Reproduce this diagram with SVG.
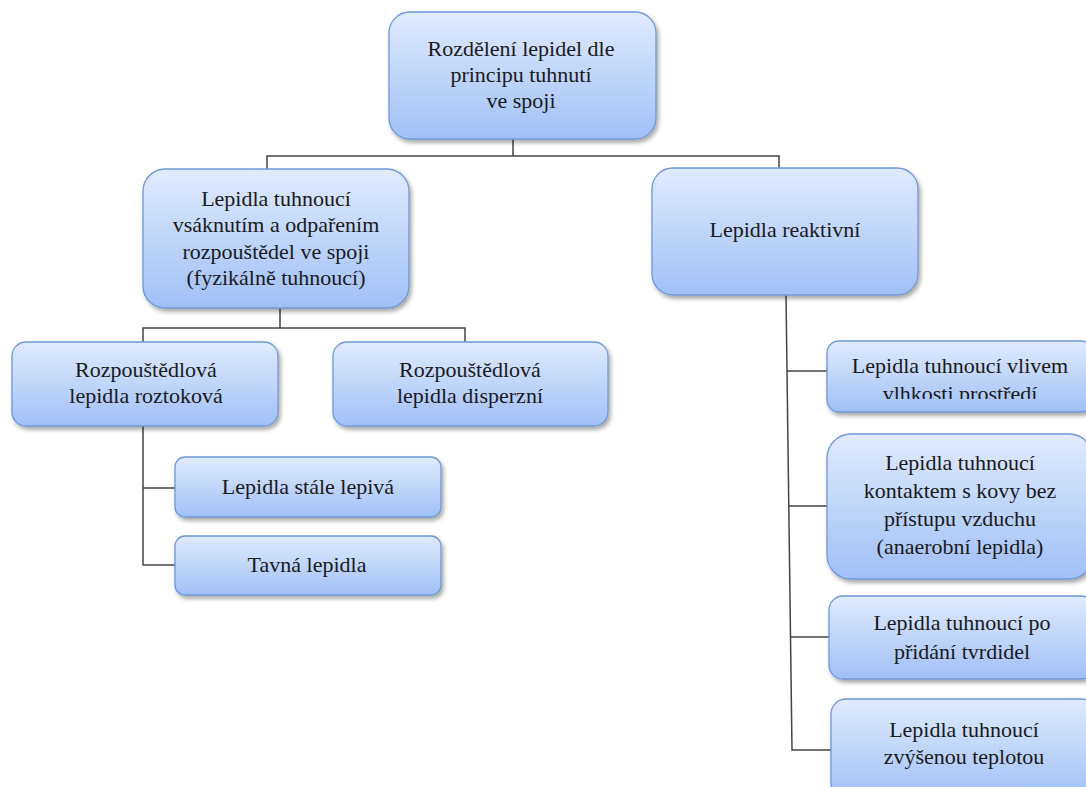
<svg xmlns="http://www.w3.org/2000/svg" width="1086" height="787" viewBox="0 0 1086 787">
<defs>
<linearGradient id="g" x1="0" y1="0" x2="0" y2="1">
<stop offset="0" stop-color="#e0ebfd"/>
<stop offset="1" stop-color="#a0c0f7"/>
</linearGradient>
<filter id="sh" x="-10%" y="-10%" width="130%" height="140%">
<feDropShadow dx="2" dy="3" stdDeviation="2" flood-color="#000" flood-opacity="0.35"/>
</filter>
<clipPath id="clipV"><rect x="827" y="342" width="300" height="57"/></clipPath>
</defs>
<style>
.box{fill:url(#g);stroke:#6f98d6;stroke-width:1.3;filter:url(#sh)}
.t{font-family:"Liberation Serif","Times New Roman",serif;font-size:22px;fill:#1a1a1a;text-anchor:middle}
.c{fill:none;stroke:#454545;stroke-width:1.5}
</style>
<rect width="1086" height="787" fill="#fff"/>
<g id="connectors">
<polyline class="c" points="513,139 513,156"/>
<polyline class="c" points="267,169 267,156 779,156 779,168"/>
<polyline class="c" points="280,308 280,328"/>
<polyline class="c" points="143,342 143,328 465,328 465,342"/>
<polyline class="c" points="143,426 143,565 175,565"/>
<line class="c" x1="143" y1="488" x2="175" y2="488"/>
<polyline class="c" points="786,295 792,750 831,750"/>
<line class="c" x1="787" y1="371" x2="827" y2="371"/>
<line class="c" x1="789" y1="506" x2="827" y2="506"/>
<line class="c" x1="790" y1="637" x2="829" y2="637"/>
</g>
<g id="root">
<rect class="box" x="389" y="12" width="267" height="127" rx="21"/>
<text class="t" x="521" y="56">Rozdělení lepidel dle</text>
<text class="t" x="521" y="82">principu tuhnutí</text>
<text class="t" x="521" y="108">ve spoji</text>
</g>
<g id="fyzikalne">
<rect class="box" x="143" y="169" width="266" height="139" rx="22"/>
<text class="t" x="276" y="206">Lepidla tuhnoucí</text>
<text class="t" x="276" y="232">vsáknutím a odpařením</text>
<text class="t" x="276" y="259">rozpouštědel ve spoji</text>
<text class="t" x="276" y="285">(fyzikálně tuhnoucí)</text>
</g>
<g id="reaktivni">
<rect class="box" x="652" y="168" width="266" height="127" rx="21"/>
<text class="t" x="785" y="237">Lepidla reaktivní</text>
</g>
<g id="roztokova">
<rect class="box" x="12" y="342" width="266" height="84" rx="14"/>
<text class="t" x="146" y="377">Rozpouštědlová</text>
<text class="t" x="146" y="403">lepidla roztoková</text>
</g>
<g id="disperzni">
<rect class="box" x="333" y="342" width="275" height="84" rx="14"/>
<text class="t" x="470" y="377">Rozpouštědlová</text>
<text class="t" x="470" y="403">lepidla disperzní</text>
</g>
<g id="stale">
<rect class="box" x="175" y="457" width="266" height="60" rx="10"/>
<text class="t" x="308" y="494">Lepidla stále lepivá</text>
</g>
<g id="tavna">
<rect class="box" x="175" y="536" width="266" height="59" rx="10"/>
<text class="t" x="307" y="572">Tavná lepidla</text>
</g>
<g id="vlhkost">
<rect class="box" x="827" y="341" width="266" height="71" rx="12"/>
<text class="t" x="960" y="373">Lepidla tuhnoucí vlivem</text>
<text class="t" x="960" y="401" clip-path="url(#clipV)">vlhkosti prostředí</text>
</g>
<g id="anaerobni">
<rect class="box" x="827" y="434" width="266" height="145" rx="24"/>
<text class="t" x="960" y="470">Lepidla tuhnoucí</text>
<text class="t" x="960" y="498">kontaktem s kovy bez</text>
<text class="t" x="960" y="526">přístupu vzduchu</text>
<text class="t" x="960" y="554">(anaerobní lepidla)</text>
</g>
<g id="tvrdidel">
<rect class="box" x="829" y="596" width="266" height="83" rx="14"/>
<text class="t" x="962" y="630">Lepidla tuhnoucí po</text>
<text class="t" x="962" y="659">přidání tvrdidel</text>
</g>
<g id="teplota">
<rect class="box" x="831" y="699" width="266" height="100" rx="15"/>
<text class="t" x="964" y="737">Lepidla tuhnoucí</text>
<text class="t" x="964" y="764">zvýšenou teplotou</text>
</g>
</svg>
